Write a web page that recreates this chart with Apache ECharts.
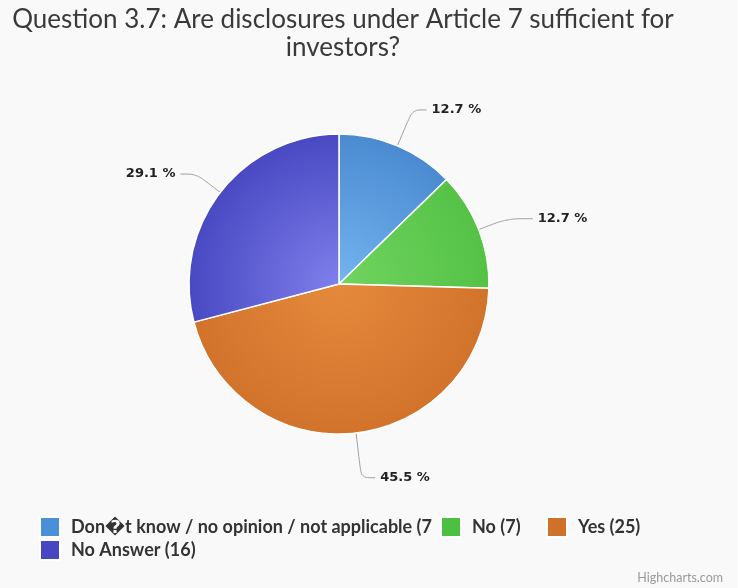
<!DOCTYPE html>
<html>
<head>
<meta charset="utf-8">
<script src="https://cdn.jsdelivr.net/npm/echarts@6/dist/echarts.min.js"></script>
<style>
  html, body { margin: 0; padding: 0; background: #f9f9f9; }
  #chart { width: 738px; height: 588px; }
</style>
</head>
<body>
<div id="chart"></div>
<script>
// Survey answers for question 3.7
const categories = [
  'Don\uFFFDt know / no opinion / not applicable',
  'No',
  'Yes',
  'No Answer'
];
const counts = [7, 7, 25, 16];

// Flat colours (legend) and gradient centre / edge colours (slices)
const flatColors = ['#4a8fd8', '#4cc043', '#d0712a', '#4747c4'];
const innerColors = ['#74b4f0', '#70d460', '#e58a3c', '#7f7fec'];
const outerColors = ['#4a8ad0', '#55c246', '#d2732c', '#4949c2'];

const cx = 339, cy = 284, R = 150;
const FONT = 'Lato, "DejaVu Sans", sans-serif';
const LABEL_FONT = '"DejaVu Sans", Verdana, sans-serif';

// Per-slice connector lengths
const lineLen = [39, 30, 45, 30];
const lineLen2 = [14, 26, 14, 16];

function legendName(i) {
  return categories[i] + ' (' + counts[i] + ')';
}

const seriesData = categories.map((c, i) => ({
  name: legendName(i),
  value: counts[i],
  labelLine: { length: lineLen[i], length2: lineLen2[i] },
  itemStyle: {
    color: {
      type: 'radial', x: cx, y: cy, r: R, global: true,
      colorStops: [
        { offset: 0, color: innerColors[i] },
        { offset: 1, color: outerColors[i] }
      ]
    }
  }
}));

// One legend block per entry so each sits where it belongs;
// the first entry's text runs up to the next swatch and is clipped there
const legendSlots = [
  { left: 39, top: 516, width: 364 },
  { left: 440, top: 516 },
  { left: 546, top: 516 },
  { left: 39, top: 539 }
];
const legends = legendSlots.map((s, i) => ({
  left: s.left,
  top: s.top,
  padding: 0,
  orient: 'horizontal',
  icon: 'rect',
  itemWidth: 20,
  itemHeight: 20,
  itemGap: 0,
  selectedMode: false,
  data: [{ name: legendName(i), itemStyle: { color: flatColors[i] } }],
  textStyle: Object.assign({
    fontFamily: FONT,
    fontSize: 18,
    fontWeight: 'bold',
    color: '#333333',
    lineHeight: 20,
    padding: [0, 0, 0, 6]
  }, s.width ? { width: s.width, overflow: 'truncate', ellipsis: '' } : {})
}));

const chart = echarts.init(document.getElementById('chart'), null, { renderer: 'canvas' });
chart.setOption({
  backgroundColor: '#f9f9f9',
  animation: false,
  graphic: [
    {
      type: 'text', x: 343, y: 6,
      style: {
        text: 'Question 3.7: Are disclosures under Article 7 sufficient for\ninvestors?',
        font: '26px ' + FONT,
        fill: '#3a3a3a',
        textAlign: 'center',
        lineHeight: 28
      }
    },
    {
      type: 'text', right: 15, bottom: 4,
      style: {
        text: 'Highcharts.com',
        font: '12.5px ' + FONT,
        fill: '#9a9a9a'
      }
    }
  ],
  legend: legends,
  series: [{
    type: 'pie',
    center: [cx, cy],
    radius: R,
    startAngle: 90,
    clockwise: true,
    percentPrecision: 1,
    data: seriesData,
    itemStyle: { borderColor: '#ffffff', borderWidth: 1.5 },
    label: {
      formatter: '{d} %',
      fontFamily: LABEL_FONT,
      fontSize: 13,
      fontWeight: 'bold',
      color: '#222222'
    },
    labelLine: {
      show: true,
      smooth: 0.3,
      lineStyle: { color: '#a0a0a0', width: 1 }
    },
    emphasis: { disabled: true }
  }]
});
</script>
</body>
</html>
